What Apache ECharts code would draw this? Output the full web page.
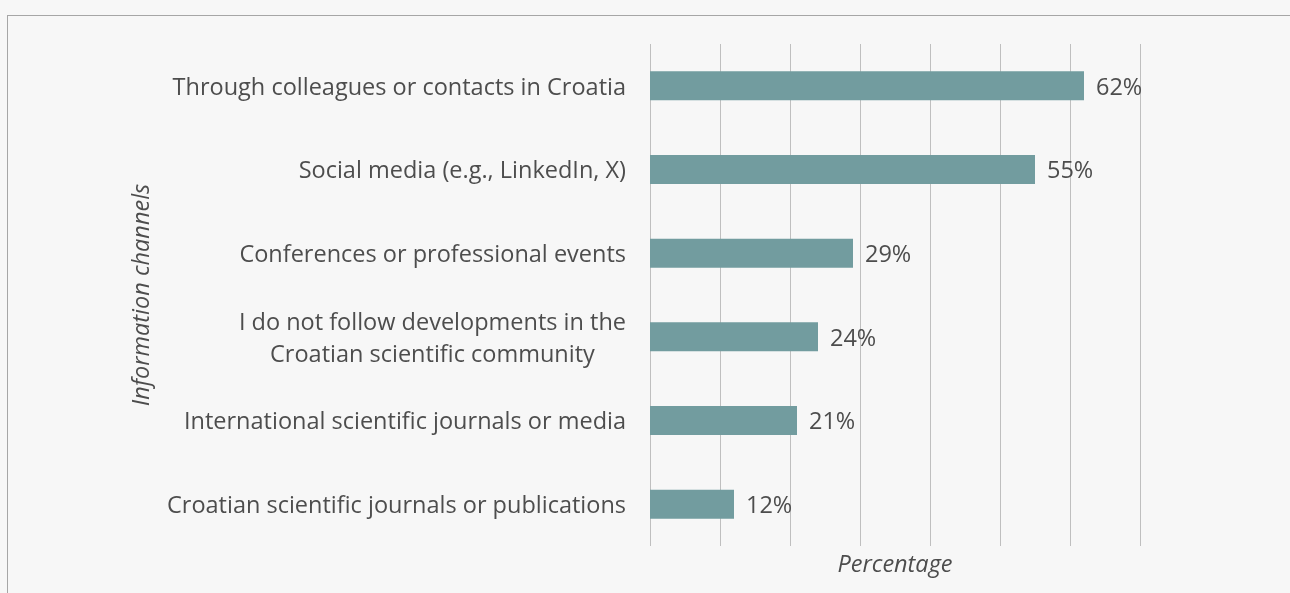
<!DOCTYPE html>
<html><head><meta charset="utf-8">
<script src="https://cdn.jsdelivr.net/npm/echarts@6/dist/echarts.min.js"></script>
<style>html,body{margin:0;padding:0;background:#f7f7f7;}#c{width:1290px;height:593px;}
#frame{position:absolute;left:7px;top:15px;width:1300px;height:600px;border:1px solid #a6a6a6;box-sizing:border-box;pointer-events:none;}</style>
</head><body><div id="c"></div><div id="frame"></div>
<script>
const categories = [
  "Croatian scientific journals or publications",
  "International scientific journals or media",
  "I do not follow developments in the\nCroatian scientific community",
  "Conferences or professional events",
  "Social media (e.g., LinkedIn, X)",
  "Through colleagues or contacts in Croatia"
];
const values = [12, 21, 24, 29, 55, 62];
const xAxisName = "Percentage";
const yAxisName = "Information channels";

const font = "Open Sans";
const fs = 23.5;
const chart = echarts.init(document.getElementById('c'));
chart.setOption({
  backgroundColor: '#f7f7f7',
  animation: false,
  grid: {left: 650, right: 150, top: 44, bottom: 47, containLabel: false},
  xAxis: {
    type: 'value', min: 0, max: 70, interval: 10,
    axisLabel: {show: false}, axisLine: {show: false}, axisTick: {show: false},
    splitLine: {show: true, lineStyle: {color: '#bfbfbf', width: 1}},
    name: xAxisName, nameLocation: 'middle', nameGap: 8,
    nameTextStyle: {fontFamily: font, fontStyle: 'italic', fontSize: fs, color: '#4d4d4d', verticalAlign: 'top'}
  },
  yAxis: {
    type: 'category', data: categories,
    axisLine: {show: false}, axisTick: {show: false},
    axisLabel: {
      margin: 24, fontFamily: font, fontSize: fs, color: '#4d4d4d', lineHeight: 32,
      padding: [4, 0, 0, 0],
      formatter: function (v) { return v.split('\n').map(function (s) { return '{c|' + s + '}'; }).join('\n'); },
      rich: {c: {align: 'center', fontFamily: font, fontSize: fs, color: '#4d4d4d', lineHeight: 32}}
    },
    name: yAxisName, nameLocation: 'middle', nameGap: 496, nameRotate: 90,
    nameTextStyle: {fontFamily: font, fontStyle: 'italic', fontSize: fs, color: '#4d4d4d'}
  },
  series: [{
    type: 'bar', data: values, barWidth: 29,
    itemStyle: {color: '#729c9f'},
    label: {show: true, position: 'right', distance: 12, offset: [0, 2], formatter: '{c}%',
      fontFamily: font, fontSize: fs, color: '#4d4d4d'}
  }]
});
</script></body></html>
